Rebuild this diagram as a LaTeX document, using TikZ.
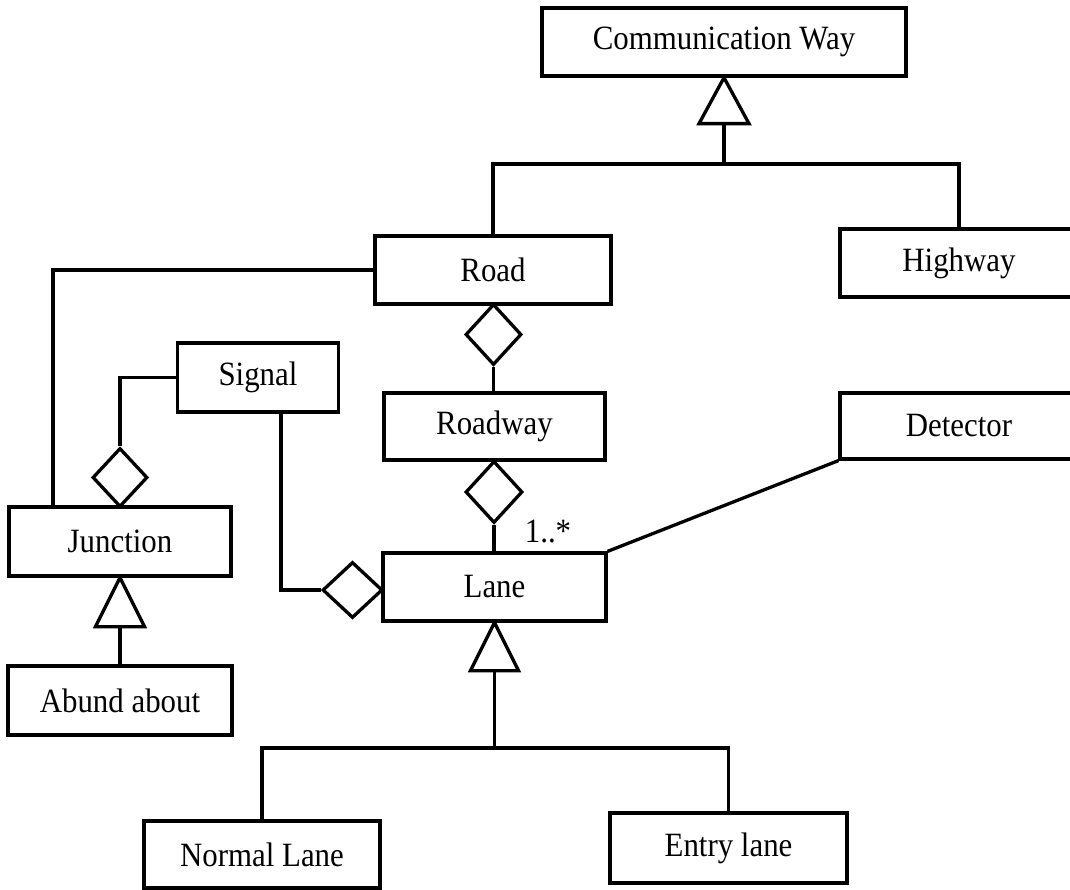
\documentclass[tikz,border=0pt]{standalone}
\usepackage{fontspec}
\setmainfont{Liberation Serif}
\usetikzlibrary{shapes.geometric,calc}
\newcommand{\tallTxt}[1]{\scalebox{0.98}[1.08]{#1}}
\begin{document}
\begin{tikzpicture}[x=1pt,y=-1pt,line width=3.3pt,line join=miter,
  cls/.style={draw,inner sep=0pt,font=\fontsize{31.5}{36}\selectfont},
  agg/.style={draw,diamond,inner sep=0pt},
  lbl/.style={inner sep=0pt,font=\fontsize{31.5}{36}\selectfont}]
\useasboundingbox (0,0) rectangle (1070,890);
\clip (0,0) rectangle (1070,890);
% classes
\node[cls,minimum width=364pt,minimum height=68pt] (cw) at (724,42) {\tallTxt{Communication Way}};
\node[cls,minimum width=236pt,minimum height=68pt] (road) at (493,270) {\tallTxt{Road}};
\node[cls,minimum width=238pt,minimum height=68pt] (highway) at (959,263) {\tallTxt{Highway}};
\node[cls,minimum width=221pt,minimum height=67pt] (roadway) at (494.5,426.5) {\tallTxt{Roadway}};
\node[cls,minimum width=223pt,minimum height=68pt] (lane) at (494.5,587) {\tallTxt{Lane}};
\node[cls,minimum width=161pt,minimum height=69pt] (signal) at (258,377.5) {\tallTxt{Signal}};
\node[cls,minimum width=222pt,minimum height=69pt] (junction) at (120,541.5) {\tallTxt{Junction}};
\node[cls,minimum width=224pt,minimum height=69pt] (abund) at (120,700.5) {\tallTxt{Abund about}};
\node[cls,minimum width=238pt,minimum height=66pt] (detector) at (959,426) {\tallTxt{Detector}};
\node[cls,minimum width=236pt,minimum height=67pt] (normal) at (262,854.5) {\tallTxt{Normal Lane}};
\node[cls,minimum width=237pt,minimum height=70pt] (entry) at (728.5,848) {\tallTxt{Entry lane}};
% aggregation diamonds
\node[agg,minimum width=56pt,minimum height=61pt] (d1) at (493.5,334.5) {};
\node[agg,minimum width=57pt,minimum height=62pt] (d2) at (494,492) {};
\node[agg,minimum width=55pt,minimum height=59pt] (d3) at (120,477.5) {};
\node[agg,minimum width=60pt,minimum height=56pt] (d4) at (352.5,590) {};
% generalization triangles
\draw (cw.south) -- ++(-25,46) -- ++(50,0) -- cycle;
\coordinate (t1b) at ($(cw.south)+(0,46)$);
\draw (junction.south) -- ++(-24.5,49) -- ++(49,0) -- cycle;
\coordinate (t2b) at ($(junction.south)+(0,49)$);
\draw (lane.south) -- ++(-24,48) -- ++(48,0) -- cycle;
\coordinate (t3b) at ($(lane.south)+(0,48)$);
% generalization connectors
\coordinate (h1) at (724,164);
\draw (t1b) -- (h1);
\draw (road.north) |- (h1) -| (highway.north);
\draw (t2b) -- (abund.north);
\coordinate (h3) at (494.5,748);
\draw (t3b) -- (h3);
\draw (normal.north) |- (h3) -| (entry.north);
% associations
\coordinate (jl) at (53,507);
\draw (road.west) -| (jl);
\draw (d1.south) -- (d1.south |- roadway.north);
\draw (d2.south) -- (d2.south |- lane.north);
\draw (signal.west) -| (d3.north);
\coordinate (sb) at (281,412);
\draw (sb) |- (d4.west);
\draw (lane.north east) -- (detector.south west);
\node[lbl] (mult) at (548,532) {\tallTxt{1..*}};
\end{tikzpicture}
\end{document}
